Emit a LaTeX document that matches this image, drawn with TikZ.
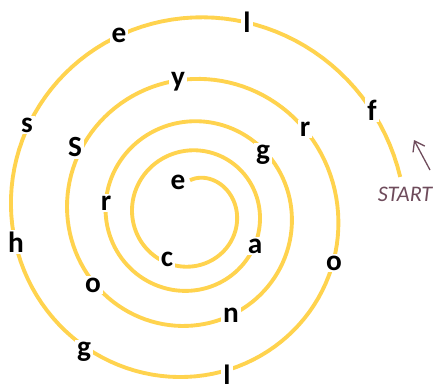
\documentclass[tikz,border=0pt]{standalone}
\usepackage{fontspec}
\setmainfont{Carlito}
\usetikzlibrary{arrows.meta}
\definecolor{spyellow}{HTML}{FFD34E}
\definecolor{spplum}{HTML}{6E4B5B}

\begin{document}
\begin{tikzpicture}[
  x=0.03cm, y=-0.03cm,
  letter/.style={fill=white, inner sep=1.8pt, font=\fontsize{25}{25}\selectfont\bfseries},
  spiral/.style={draw=spyellow, line width=3.3pt},
  startlbl/.style={text=spplum, font=\fontsize{19}{19}\selectfont\itshape},
  pointer/.style={-{Straight Barb[length=2.8mm, width=4mm]}, line width=1.1pt, spplum}]
  \useasboundingbox (0,0) rectangle (437,384);
  % log spiral round (190,214), tightened at the inner end
  \draw[spiral] plot[domain=0:1520, samples=500, variable=\t]
    ({190 + (48*exp(0.3757*(\t-90)/360) - 10*exp(-\t/40))*sin(\t)},
     {214 - (48*exp(0.3757*(\t-90)/360) - 10*exp(-\t/40))*cos(\t)});
  % outer turn
  \node[letter] (f1) at (372,110) {f};
  \node[letter] (l1) at (247,22) {l};
  \node[letter] (e1) at (119,35) {e};
  \node[letter] (s1) at (27,125) {s};
  \node[letter] (h1) at (16,242) {h};
  \node[letter] (g1) at (84,352) {g};
  \node[letter] (l2) at (227,375) {l};
  \node[letter] (o1) at (334,263) {o};
  % middle turns
  \node[letter] (r1) at (305,129) {r};
  \node[letter] (y1) at (178,82) {y};
  \node[letter] (S1) at (75,147) {S};
  \node[letter] (o2) at (93,285) {o};
  \node[letter] (n1) at (231,315) {n};
  \node[letter] (g2) at (263,155) {g};
  \node[letter] (r2) at (106,203) {r};
  \node[letter] (a1) at (255,246) {a};
  % inner end
  \node[letter] (c1) at (167,259) {c};
  \node[letter] (e2) at (178,182) {e};
  \node[startlbl] (start) at (405,194) {START};
  \coordinate (ptail) at (430,170);
  \coordinate (phead) at (414,140);
  \draw[pointer] (ptail) -- (phead);
\end{tikzpicture}
\end{document}
